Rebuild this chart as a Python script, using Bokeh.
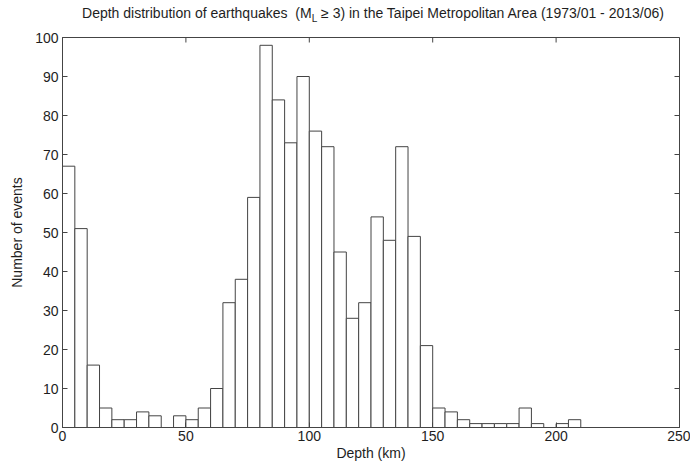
import math
from bokeh.plotting import figure
from bokeh.models import LinearAxis, FixedTicker, Range1d, Div
from bokeh.layouts import column
from bokeh.embed import file_html
from bokeh.resources import INLINE

bin_width = 5
counts = [67, 51, 16, 5, 2, 2, 4, 3, 0, 3, 2, 5, 10, 32, 38, 59, 98, 84, 73, 90,
          76, 72, 45, 28, 32, 54, 48, 72, 49, 21, 5, 4, 2, 1, 1, 1, 1, 5, 1, 0, 1, 2]
left_edges = [i * bin_width for i in range(len(counts))]
right_edges = [e + bin_width for e in left_edges]
x_ticks = [0, 50, 100, 150, 200, 250]
y_ticks = [0, 10, 20, 30, 40, 50, 60, 70, 80, 90, 100]

title_html = ("Depth distribution of earthquakes&nbsp;&nbsp;(M<sub style='font-size:10px'>L</sub>"
              " \u2265 3) in the Taipei Metropolitan Area (1973/01 - 2013/06)")
x_label = "Depth (km)"
y_label = "Number of events"

FONT = "Liberation Sans"
INK = "#1e1e1e"
LINE = "#444444"
x_min, x_max = x_ticks[0], x_ticks[-1]
y_min, y_max = y_ticks[0], y_ticks[-1]

title = Div(text=title_html, width=690, height=24, margin=(0, 0, 0, 0),
            styles={"font-family": FONT, "font-size": "14px", "line-height": "16px",
                    "color": INK, "text-align": "center", "padding-left": "56px",
                    "padding-top": "5px", "box-sizing": "border-box", "white-space": "nowrap"})

p = figure(width=690, height=439, output_backend="svg", toolbar_location=None,
           x_range=Range1d(x_min, x_max), y_range=Range1d(y_min, y_max),
           min_border_left=62, min_border_right=11, min_border_top=13, min_border_bottom=34,
           x_axis_type=None, y_axis_type=None, margin=(0, 0, 0, 0))
p.grid.visible = False
p.outline_line_color = LINE
p.outline_line_width = 1

p.quad(left=left_edges, right=right_edges, bottom=0, top=counts,
       fill_color="white", line_color=LINE, line_width=1)

# inward tick marks on the top and right frame edges (half of each dash is clipped by the frame)
p.scatter(x=x_ticks, y=[y_max] * len(x_ticks), marker="dash", size=10, angle=math.pi / 2,
          line_color=LINE, line_width=1)
p.scatter(x=[x_max] * len(y_ticks), y=y_ticks, marker="dash", size=10,
          line_color=LINE, line_width=1)

def make_axis(ticks, label):
    ax = LinearAxis(ticker=FixedTicker(ticks=ticks), axis_label=label)
    ax.major_tick_in = 5
    ax.major_tick_out = 0
    ax.minor_tick_line_color = None
    ax.axis_line_color = LINE
    ax.major_tick_line_color = LINE
    ax.major_label_text_font = FONT
    ax.major_label_text_font_size = "14px"
    ax.major_label_text_color = INK
    ax.axis_label_text_font = FONT
    ax.axis_label_text_font_size = "14px"
    ax.axis_label_text_font_style = "normal"
    ax.axis_label_text_color = INK
    return ax

bx = make_axis(x_ticks, x_label)
bx.major_label_standoff = 3
bx.axis_label_standoff = 1
p.add_layout(bx, "below")

ly = make_axis(y_ticks, y_label)
ly.major_label_standoff = 4
ly.axis_label_standoff = 7
p.add_layout(ly, "left")

layout = column(title, p, spacing=0)
open("out.html", "w").write(file_html(layout, INLINE))
